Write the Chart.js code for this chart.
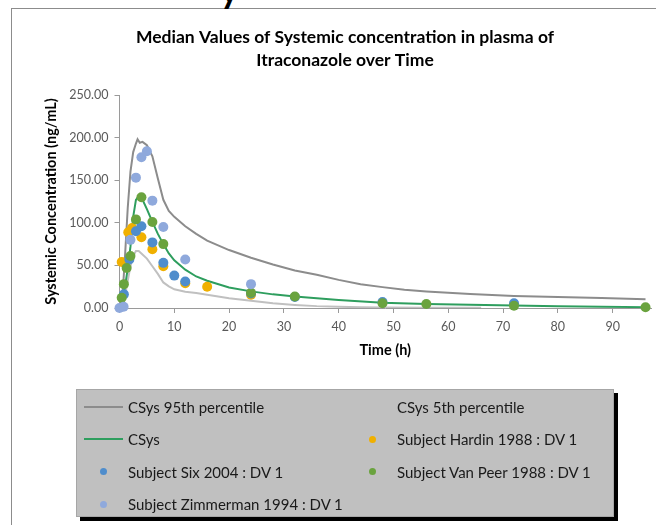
<!DOCTYPE html>
<html>
<head>
<meta charset="utf-8">
<script src="https://cdn.jsdelivr.net/npm/chart.js@4.4.1/dist/chart.umd.min.js"></script>
<style>
  html, body { margin: 0; padding: 0; background: #fff; }
  #wrap { position: relative; width: 656px; height: 525px; overflow: hidden; font-family: Lato, sans-serif; }
  #frame { position: absolute; left: 11px; top: 8px; width: 800px; height: 700px;
           border-left: 1px solid #8c8c8c; border-top: 1px solid #8c8c8c; }
  #cut { position: absolute; left: 220px; top: -29px; font: bold 36px Lato, sans-serif; line-height: 36px; color: #000; }
  canvas { position: absolute; left: 0; top: 0; }
  #legend { position: absolute; left: 76px; top: 389px; width: 538px; height: 128px; box-sizing: border-box;
            background: #c0c0c0; border: 1px solid #a6a6a6; box-shadow: 4px 4px 0 #000;
            display: grid; grid-template-columns: 269px 269px; grid-auto-rows: 32.3px;
            padding: 1px 0 0 7px; font: 15px Lato, sans-serif; color: #1a1a1a; }
  .item { display: flex; align-items: center; white-space: nowrap; }
  .sym { position: relative; width: 39px; height: 100%; margin-right: 5px; flex: none; }
  .sym .ln { position: absolute; left: 0; right: 0; top: 50%; height: 2px; margin-top: -1px; }
  .sym .dot { position: absolute; left: 50%; top: 50%; width: 7px; height: 7px; margin: -3.5px 0 0 -3.5px; border-radius: 50%; }
</style>
</head>
<body>
<div id="wrap">
  <div id="frame"></div>
  <div id="cut">y</div>
  <canvas id="chart" width="656" height="525"></canvas>
  <div id="legend"></div>
</div>
<script>
// chart text
const titleLines = ['Median Values of Systemic concentration in plasma of', 'Itraconazole over Time'];
const xTitle = 'Time (h)';
const yTitle = 'Systemic Concentration (ng/mL)';

// simulated percentiles and median (time in h, conc in ng/mL)
const p95Time = [0, 0.5, 1, 1.5, 2, 2.5, 3, 3.3, 3.7, 4.2, 5, 6, 7, 8, 9, 10, 12, 14, 16, 20, 24, 28, 32, 36, 40, 44, 48, 52, 56, 64, 72, 80, 88, 96];
const p95Conc = [0, 10, 60, 117, 160, 183, 193, 198, 194, 195, 191, 178, 152, 127, 114, 107, 96, 87, 79, 68, 59, 51, 44, 39, 33, 28, 24.5, 21.5, 19.5, 16.3, 14, 12.8, 11.6, 10.3];

const p5Time = [0, 0.5, 1, 1.5, 2, 2.5, 3, 3.5, 4, 5, 6, 7, 8, 9, 10, 12, 14, 16, 20, 24, 28, 32, 36, 40, 44, 48, 56, 66];
const p5Conc = [0, 3, 14, 32, 49, 61, 67, 67, 64, 58, 49, 40, 30, 25.5, 22, 19, 17.5, 15.5, 11.5, 8.5, 5.5, 3.6, 2.2, 1.4, 0.9, 0.6, 0.4, 0.3];

const csysTime = [0, 0.5, 1, 1.5, 2, 2.5, 3, 3.5, 4, 5, 6, 7, 8, 9, 10, 12, 14, 16, 20, 24, 28, 32, 40, 48, 56, 64, 72, 80, 88, 96];
const csysConc = [0, 8, 25, 46, 72, 107, 127, 131, 130, 116, 101, 87, 75, 64, 56, 45, 37, 32, 24, 19.5, 16, 13.5, 9.5, 6.3, 4.7, 3.8, 2.9, 2.2, 1.6, 1.0];

// observed data
const hardinTime = [0.4, 1.6, 2.3, 4, 6, 8, 12, 16, 24];
const hardinConc = [54, 89, 94, 83, 69, 49, 29, 25, 15.5];

const sixTime = [0.8, 1.8, 3, 4, 6, 8, 10, 12, 24, 32, 48, 72];
const sixConc = [16, 57, 90, 96, 77, 53, 38, 31, 17, 13, 7, 5.5];

const vanPeerTime = [0.4, 0.8, 1.3, 2, 3, 4, 6, 8, 24, 32, 48, 56, 72, 96];
const vanPeerConc = [12, 28, 47, 61, 104, 130, 101, 75, 18, 13.5, 5.5, 4.7, 2.7, 0.8];

const zimTime = [0, 0.75, 2, 3, 4, 5, 6, 8, 12, 24];
const zimConc = [0, 1.5, 80, 153, 177, 184, 126, 95, 57, 28];

const toPoints = (t, c) => t.map((x, i) => ({ x: x, y: c[i] }));

function lineSet(label, t, c, color) {
    return { label, data: toPoints(t, c), showLine: true, borderColor: color, backgroundColor: color,
             borderWidth: 2, pointRadius: 0, pointHoverRadius: 0, tension: 0, isLine: true };
}
function dotSet(label, t, c, color) {
    return { label, data: toPoints(t, c), showLine: false, borderColor: color, backgroundColor: color,
             pointRadius: 5, pointBorderWidth: 0, clip: false, isLine: false };
}

const datasets = [
    lineSet('CSys 95th percentile', p95Time, p95Conc, '#8c8c8c'),
    lineSet('CSys 5th percentile', p5Time, p5Conc, '#c0c0c0'),
    lineSet('CSys', csysTime, csysConc, '#2e9e5e'),
    dotSet('Subject Hardin 1988 : DV 1', hardinTime, hardinConc, '#f0b000'),
    dotSet('Subject Six 2004 : DV 1', sixTime, sixConc, '#4f8dcc'),
    dotSet('Subject Van Peer 1988 : DV 1', vanPeerTime, vanPeerConc, '#6aa33e'),
    dotSet('Subject Zimmerman 1994 : DV 1', zimTime, zimConc, '#8fa9dc')
];
// later series drawn on top, like the original
datasets.forEach((d, i) => d.order = datasets.length - i);

const titlePlugin = {
    id: 'twoLineTitle',
    afterDraw(chart) {
        const ctx = chart.ctx;
        ctx.save();
        ctx.font = 'bold 17.5px Lato, sans-serif';
        ctx.fillStyle = '#000';
        ctx.textAlign = 'center';
        ctx.textBaseline = 'middle';
        titleLines.forEach((line, i) => ctx.fillText(line, 345, 37 + i * 23));
        ctx.restore();
    }
};

const axisColor = '#9a9a9a';
const tickColor = '#595959';

const chart = new Chart(document.getElementById('chart'), {
    type: 'scatter',
    data: { datasets: datasets },
    options: {
        responsive: false,
        animation: false,
        layout: { padding: { top: 95, right: 0, bottom: 162, left: 39 } },
        plugins: {
            legend: { display: false },
            tooltip: { enabled: false }
        },
        scales: {
            x: {
                type: 'linear',
                min: 0,
                max: 97,
                afterBuildTicks: s => { s.ticks = s.ticks.filter(t => t.value % 10 === 0); },
                afterFit: s => { s.height = 55; },
                ticks: { stepSize: 10, color: tickColor, font: { family: 'Lato', size: 12.5 }, padding: 6, maxRotation: 0 },
                grid: { drawOnChartArea: false, drawTicks: true, tickLength: 5, color: axisColor },
                border: { color: axisColor },
                title: { display: true, text: xTitle, color: '#000', font: { family: 'Lato', size: 14.5, weight: 'bold' } }
            },
            y: {
                min: 0,
                max: 250,
                afterFit: s => { s.width = 80.5; },
                ticks: { stepSize: 50, color: tickColor, font: { family: 'Lato', size: 12.5 }, padding: 6,
                         callback: v => v.toFixed(2) },
                grid: { drawOnChartArea: false, drawTicks: true, tickLength: 5, color: axisColor },
                border: { color: axisColor },
                title: { display: true, text: yTitle, color: '#000', font: { family: 'Lato', size: 14.5, weight: 'bold' } }
            }
        }
    },
    plugins: [titlePlugin]
});

// legend box, two columns, built from the datasets
const legendEl = document.getElementById('legend');
chart.data.datasets.forEach(d => {
    const item = document.createElement('div');
    item.className = 'item';
    const sym = document.createElement('span');
    sym.className = 'sym';
    const mark = document.createElement('span');
    mark.className = d.isLine ? 'ln' : 'dot';
    mark.style.background = d.borderColor;
    sym.appendChild(mark);
    const txt = document.createElement('span');
    txt.textContent = d.label;
    item.appendChild(sym);
    item.appendChild(txt);
    legendEl.appendChild(item);
});
</script>
</body>
</html>
